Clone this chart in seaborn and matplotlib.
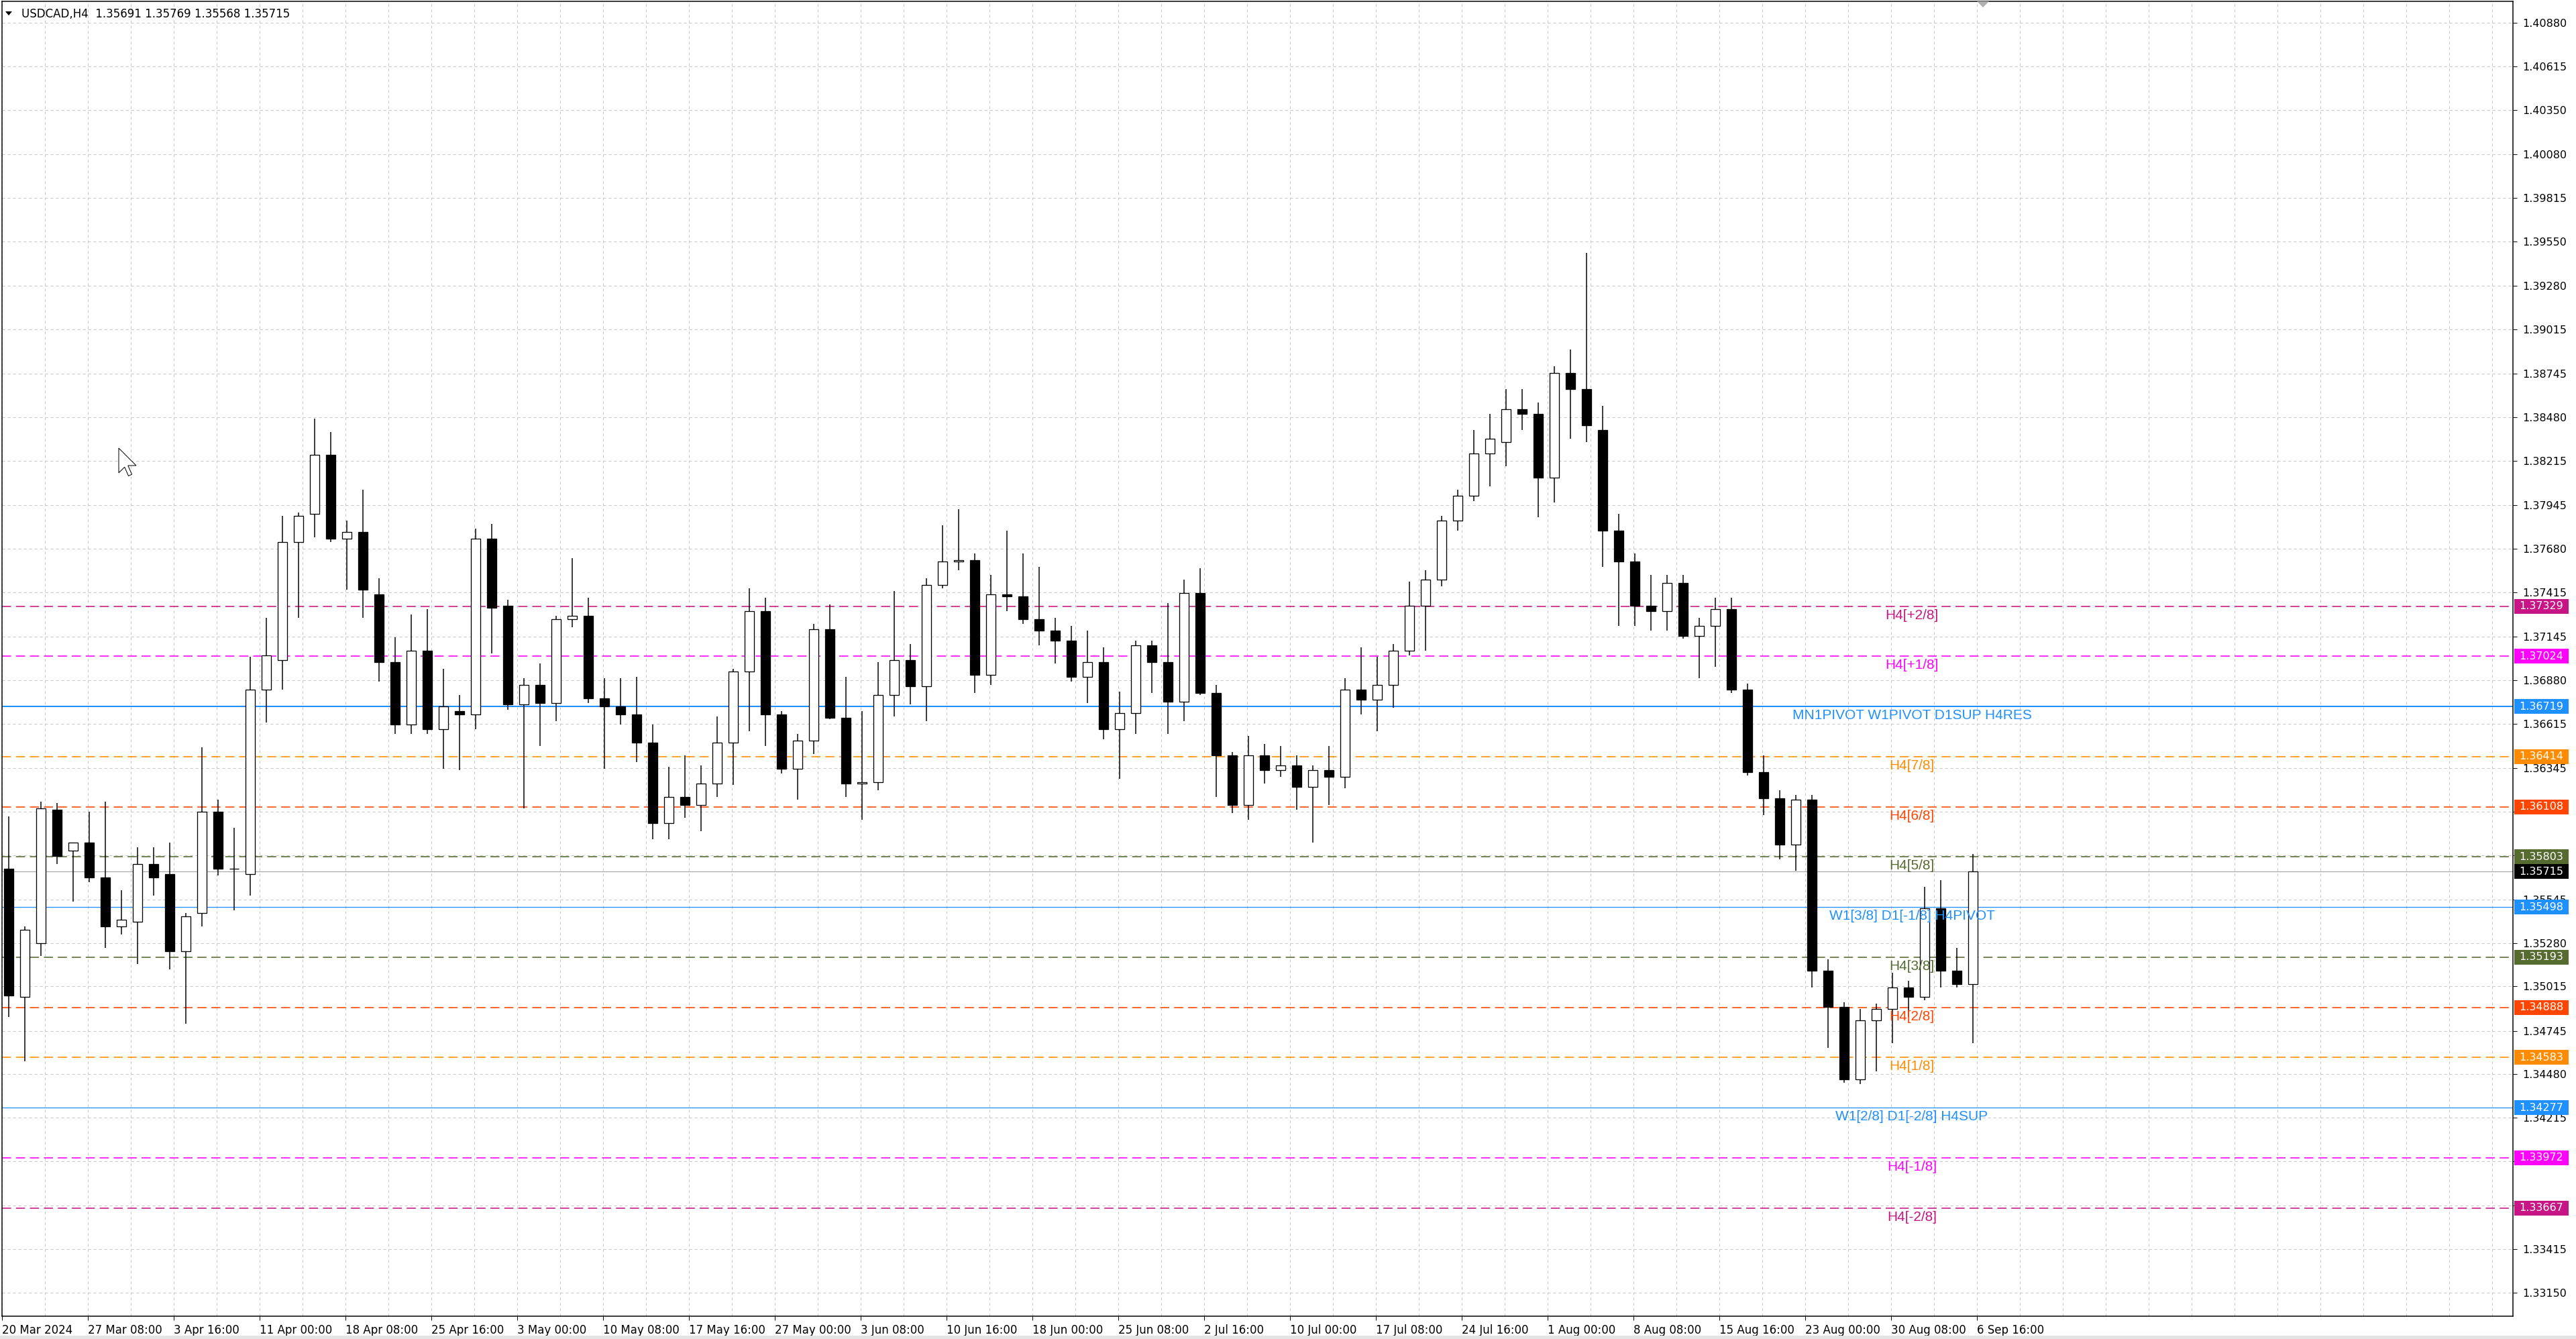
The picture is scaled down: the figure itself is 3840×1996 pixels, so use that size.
import numpy as np
import pandas as pd
import matplotlib
matplotlib.use("Agg")
import matplotlib.pyplot as plt
from matplotlib.patches import Polygon, Rectangle
import seaborn as sns

# USDCAD H4 chart, 20 Mar 2024 - 6 Sep 2024, summarised as one OHLC row per trading day
opens = [1.3573, 1.3495, 1.3528, 1.3609, 1.3584, 1.3589, 1.3568, 1.3538, 1.3541, 1.3576,
         1.3570, 1.3523, 1.3546, 1.3608, 1.3573, 1.3570, 1.3682, 1.3700, 1.3772, 1.3789,
         1.3825, 1.3774, 1.3778, 1.3740, 1.3699, 1.3661, 1.3706, 1.3658, 1.3669, 1.3667,
         1.3774, 1.3733, 1.3673, 1.3685, 1.3674, 1.3725, 1.3727, 1.3677, 1.3672, 1.3667,
         1.3650, 1.3601, 1.3617, 1.3612, 1.3625, 1.3650, 1.3693, 1.3730, 1.3667, 1.3634,
         1.3651, 1.3719, 1.3665, 1.3625, 1.3626, 1.3679, 1.3700, 1.3684, 1.3746, 1.3760,
         1.3761, 1.3691, 1.3740, 1.3739, 1.3725, 1.3718, 1.3712, 1.3690, 1.3699, 1.3658,
         1.3668, 1.3709, 1.3699, 1.3675, 1.3741, 1.3680, 1.3642, 1.3612, 1.3642, 1.3633,
         1.3636, 1.3623, 1.3633, 1.3629, 1.3682, 1.3676, 1.3685, 1.3706, 1.3733, 1.3749,
         1.3785, 1.3800, 1.3826, 1.3833, 1.3853, 1.3850, 1.3811, 1.3875, 1.3865, 1.3840,
         1.3779, 1.3760, 1.3733, 1.3730, 1.3747, 1.3715, 1.3721, 1.3731, 1.3682, 1.3632,
         1.3616, 1.3588, 1.3615, 1.3511, 1.3489, 1.3445, 1.3481, 1.3488, 1.3501, 1.3495,
         1.3549, 1.3511, 1.3503]
highs = [1.3605, 1.3538, 1.3614, 1.3613, 1.3589, 1.3608, 1.3614, 1.3560, 1.3586, 1.3586,
         1.3589, 1.3546, 1.3647, 1.3615, 1.3598, 1.3702, 1.3726, 1.3788, 1.3790, 1.3847,
         1.3839, 1.3785, 1.3804, 1.3750, 1.3714, 1.3728, 1.3731, 1.3695, 1.3679, 1.3780,
         1.3783, 1.3737, 1.3689, 1.3698, 1.3727, 1.3762, 1.3738, 1.3689, 1.3689, 1.3690,
         1.3661, 1.3635, 1.3642, 1.3636, 1.3666, 1.3695, 1.3744, 1.3738, 1.3669, 1.3655,
         1.3722, 1.3734, 1.3690, 1.3669, 1.3699, 1.3742, 1.3710, 1.3750, 1.3782, 1.3792,
         1.3765, 1.3752, 1.3779, 1.3765, 1.3757, 1.3726, 1.3721, 1.3718, 1.3708, 1.3681,
         1.3712, 1.3712, 1.3735, 1.3749, 1.3756, 1.3685, 1.3644, 1.3654, 1.3649, 1.3648,
         1.3642, 1.3636, 1.3648, 1.3689, 1.3708, 1.3702, 1.3710, 1.3748, 1.3755, 1.3788,
         1.3804, 1.3840, 1.3850, 1.3865, 1.3865, 1.3857, 1.3879, 1.3889, 1.3948, 1.3855,
         1.3789, 1.3765, 1.3752, 1.3752, 1.3752, 1.3726, 1.3738, 1.3738, 1.3686, 1.3642,
         1.3621, 1.3618, 1.3618, 1.3518, 1.3492, 1.3488, 1.3491, 1.3510, 1.3505, 1.3562,
         1.3566, 1.3525, 1.3582]
lows = [1.3483, 1.3456, 1.3520, 1.3576, 1.3553, 1.3565, 1.3525, 1.3533, 1.3515, 1.3557,
        1.3512, 1.3479, 1.3538, 1.3569, 1.3548, 1.3557, 1.3662, 1.3682, 1.3726, 1.3775,
        1.3772, 1.3743, 1.3726, 1.3687, 1.3655, 1.3655, 1.3655, 1.3634, 1.3633, 1.3658,
        1.3704, 1.3670, 1.3610, 1.3648, 1.3663, 1.3720, 1.3674, 1.3634, 1.3661, 1.3638,
        1.3591, 1.3591, 1.3604, 1.3596, 1.3617, 1.3624, 1.3657, 1.3648, 1.3631, 1.3615,
        1.3643, 1.3664, 1.3617, 1.3603, 1.3621, 1.3666, 1.3673, 1.3663, 1.3744, 1.3755,
        1.3680, 1.3685, 1.3730, 1.3722, 1.3709, 1.3698, 1.3687, 1.3674, 1.3652, 1.3628,
        1.3655, 1.3680, 1.3655, 1.3663, 1.3679, 1.3617, 1.3607, 1.3603, 1.3625, 1.3629,
        1.3609, 1.3589, 1.3612, 1.3622, 1.3667, 1.3657, 1.3671, 1.3703, 1.3706, 1.3745,
        1.3779, 1.3797, 1.3806, 1.3818, 1.3840, 1.3787, 1.3796, 1.3835, 1.3833, 1.3757,
        1.3721, 1.3721, 1.3718, 1.3718, 1.3713, 1.3689, 1.3696, 1.3680, 1.3630, 1.3606,
        1.3579, 1.3572, 1.3501, 1.3464, 1.3443, 1.3442, 1.3450, 1.3467, 1.3483, 1.3493,
        1.3501, 1.3501, 1.3467]
closes = [1.3496, 1.3536, 1.3610, 1.3581, 1.3589, 1.3568, 1.3538, 1.3542, 1.3576, 1.3568,
          1.3523, 1.3544, 1.3608, 1.3573, 1.3573, 1.3682, 1.3703, 1.3772, 1.3788, 1.3825,
          1.3774, 1.3778, 1.3743, 1.3699, 1.3661, 1.3706, 1.3658, 1.3672, 1.3667, 1.3774,
          1.3732, 1.3673, 1.3685, 1.3674, 1.3725, 1.3727, 1.3677, 1.3672, 1.3667, 1.3650,
          1.3601, 1.3617, 1.3612, 1.3625, 1.3650, 1.3693, 1.3730, 1.3667, 1.3634, 1.3651,
          1.3719, 1.3665, 1.3625, 1.3626, 1.3679, 1.3700, 1.3684, 1.3746, 1.3760, 1.3761,
          1.3691, 1.3740, 1.3739, 1.3725, 1.3718, 1.3712, 1.3690, 1.3699, 1.3658, 1.3668,
          1.3709, 1.3699, 1.3675, 1.3741, 1.3680, 1.3642, 1.3612, 1.3642, 1.3633, 1.3636,
          1.3623, 1.3633, 1.3629, 1.3682, 1.3676, 1.3685, 1.3706, 1.3733, 1.3749, 1.3785,
          1.3800, 1.3826, 1.3835, 1.3853, 1.3850, 1.3811, 1.3875, 1.3865, 1.3843, 1.3779,
          1.3760, 1.3733, 1.3730, 1.3747, 1.3715, 1.3721, 1.3731, 1.3682, 1.3632, 1.3616,
          1.3588, 1.3615, 1.3511, 1.3489, 1.3445, 1.3481, 1.3488, 1.3501, 1.3495, 1.3549,
          1.3511, 1.3503, 1.35715]

price_ticks = [1.40880, 1.40615, 1.40350, 1.40080, 1.39815, 1.39550, 1.39280, 1.39015,
               1.38745, 1.38480, 1.38215, 1.37945, 1.37680, 1.37415, 1.37145, 1.36880,
               1.36615, 1.36345, 1.36080, 1.35815, 1.35545, 1.35280, 1.35015, 1.34745,
               1.34480, 1.34215, 1.33950, 1.33680, 1.33415, 1.33150]
hidden_ticks = [1.36080, 1.33950]

date_labels = ["20 Mar 2024", "27 Mar 08:00", "3 Apr 16:00", "11 Apr 00:00", "18 Apr 08:00",
               "25 Apr 16:00", "3 May 00:00", "10 May 08:00", "17 May 16:00", "27 May 00:00",
               "3 Jun 08:00", "10 Jun 16:00", "18 Jun 00:00", "25 Jun 08:00", "2 Jul 16:00",
               "10 Jul 00:00", "17 Jul 08:00", "24 Jul 16:00", "1 Aug 00:00", "8 Aug 08:00",
               "15 Aug 16:00", "23 Aug 00:00", "30 Aug 08:00", "6 Sep 16:00"]

level_prices = [1.37329, 1.37024, 1.36719, 1.36414, 1.36108, 1.35803, 1.35498,
                1.35193, 1.34888, 1.34583, 1.34277, 1.33972, 1.33667]
level_names = ["H4[+2/8]", "H4[+1/8]", "MN1PIVOT W1PIVOT D1SUP H4RES", "H4[7/8]",
               "H4[6/8]", "H4[5/8]", "W1[3/8] D1[-1/8] H4PIVOT", "H4[3/8]", "H4[2/8]",
               "H4[1/8]", "W1[2/8] D1[-2/8] H4SUP", "H4[-1/8]", "H4[-2/8]"]
level_colors = ["#C71585", "#FF00FF", "#1E90FF", "#FF8C00", "#FF4500", "#556B2F",
                "#1E90FF", "#556B2F", "#FF4500", "#FF8C00", "#1E90FF", "#FF00FF", "#C71585"]

last_bar = [1.35691, 1.35769, 1.35568, 1.35715]   # open, high, low, close of the live bar

W, H = 3840, 1996
PX = 0.72  # one pixel in points at dpi 100

sns.set_theme(style="white")
plt.rcParams["font.family"] = ["DejaVu Sans"]

df = pd.DataFrame({"open": opens, "high": highs, "low": lows, "close": closes})
df["x"] = np.arange(len(df)) * 6 + 2.5          # six H4 bars per day
df["up"] = df["close"] >= df["open"]
df["body"] = (df["close"] - df["open"]).abs().clip(lower=0.00003)
df["base"] = df[["open", "close"]].min(axis=1)

fig = plt.figure(figsize=(W / 100, H / 100), dpi=100, facecolor="white")
ax = fig.add_axes([3 / W, (H - 1962) / H, 3743 / W, 1960 / H])

x_max = 3743 / 4
ax.set_xlim(0, x_max)
ax.set_ylim(1.40880 - (1962 - 34) * 4.083e-5, 1.40880 + (34 - 2) * 4.083e-5)

# grid
grid_style = dict(color="#c4c4c4", lw=PX, ls=(0, (4, 4)))
major_x = [32 * k for k in range(len(date_labels))]
minor_x = [v for v in range(0, int(x_max), 16) if v not in major_x]
ax.set_xticks(major_x)
ax.set_xticks(minor_x, minor=True)
ax.set_xticklabels(date_labels, ha="left")
ax.set_yticks(price_ticks)
ax.set_yticklabels(["" if p in hidden_ticks else f"{p:.5f}" for p in price_ticks])
ax.grid(True, which="both", axis="x", **grid_style)
ax.grid(True, which="major", axis="y", **grid_style)
ax.set_axisbelow(True)

ax.tick_params(axis="y", which="major", left=False, right=True, labelleft=False,
               labelright=True, length=4, width=PX, pad=6, labelsize=11.5, colors="black")
ax.tick_params(axis="x", which="major", bottom=True, length=4, width=PX, pad=5,
               labelsize=12, colors="black")
ax.tick_params(axis="x", which="minor", length=0)
for s in ax.spines.values():
    s.set_color("black")
    s.set_linewidth(1.5 * PX)

# level lines and their names
for price, name, col in zip(level_prices, level_names, level_colors):
    if col == "#1E90FF":
        lw = 2 * PX if "MN1" in name else 1.3 * PX
        ax.axhline(price, color=col, lw=lw, zorder=2)
    else:
        ax.axhline(price, color=col, lw=1.6 * PX, ls=(0, (8.5, 4.5)), zorder=2)
    ax.annotate(name, xy=(711.75, price), xytext=(0, -4), textcoords="offset pixels",
                ha="center", va="top", color=col, fontsize=15,
                family=["Liberation Sans", "DejaVu Sans"], zorder=6)

# bid line
ax.axhline(last_bar[3], color="#a8a8a8", lw=1.2 * PX, zorder=2)

# candles
ax.vlines(df["x"], df["low"], df["high"], color="black", lw=1.5 * PX, zorder=3)
up = df[df["up"]]
dn = df[~df["up"]]
ax.bar(up["x"], up["body"], bottom=up["base"], width=3.6, facecolor="white",
       edgecolor="black", linewidth=1.3 * PX, zorder=4)
ax.bar(dn["x"], dn["body"], bottom=dn["base"], width=3.6, facecolor="black",
       edgecolor="black", linewidth=1.3 * PX, zorder=4)

# price boxes on the right scale
ytr = ax.get_yaxis_transform()
box_h = 22 * 4.083e-5
x0 = (3748 - 3) / 3743
bw = 81 / 3743
boxes = list(zip(level_prices, level_colors)) + [(last_bar[3], "#000000")]
for price, col in boxes:
    ax.add_patch(Rectangle((x0, price - box_h / 2), bw, box_h, transform=ytr,
                           facecolor=col, edgecolor="none", clip_on=False, zorder=10))
    ax.text(x0 + bw / 2, price, f"{price:.5f}", transform=ytr, ha="center", va="center",
            color="white", fontsize=11.5, clip_on=False, zorder=11)

# header
fig.text(32 / W, 1 - 21 / H, "USDCAD,H4  " + " ".join(f"{v:.5f}" for v in last_bar),
         fontsize=12, va="center", ha="left", color="black")
fig.patches.append(Polygon([(8 / W, 1 - 17 / H), (18 / W, 1 - 17 / H), (13 / W, 1 - 23 / H)],
                           closed=True, transform=fig.transFigure, facecolor="black",
                           edgecolor="none"))
# chart shift marker
fig.patches.append(Polygon([(2947 / W, 1 - 2 / H), (2965 / W, 1 - 2 / H), (2956 / W, 1 - 11 / H)],
                           closed=True, transform=fig.transFigure, facecolor="#b0b0b0",
                           edgecolor="none"))
# mouse pointer
tip_x, tip_y, sc = 177, 668, 2.3
arrow = [(0, 0), (0, 16), (3.8, 12.3), (6.3, 18), (8.5, 17), (6, 11.3), (11.3, 11.3)]
fig.patches.append(Polygon([((tip_x + sc * a) / W, 1 - (tip_y + sc * b) / H) for a, b in arrow],
                           closed=True, transform=fig.transFigure, facecolor="white",
                           edgecolor="black", linewidth=PX))
# window frame
fig.patches.append(Rectangle((0, 0), 1, 5 / H, transform=fig.transFigure,
                             facecolor="#e4e4e4", edgecolor="none"))

fig.savefig("out.png", dpi=100, facecolor="white")
